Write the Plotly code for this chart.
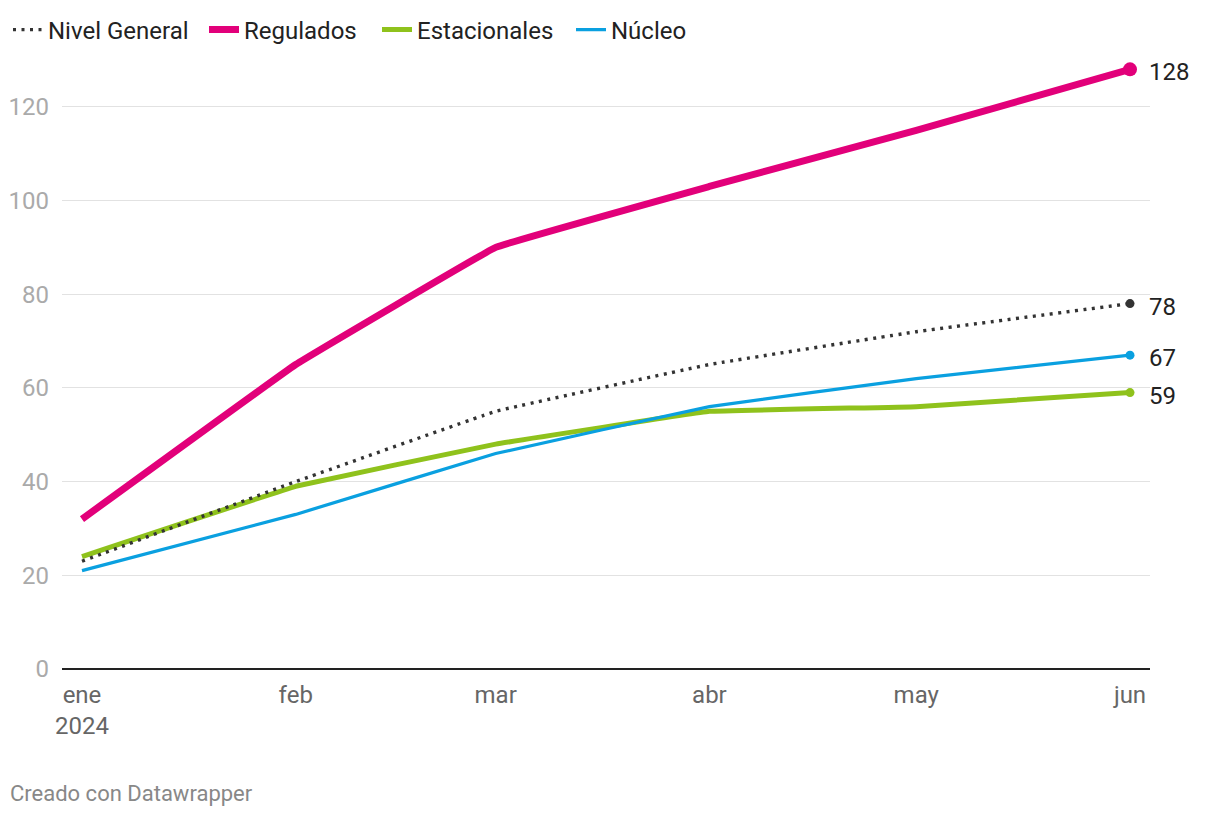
import plotly.graph_objects as go
import pandas as pd

dates = ["2024-01-01", "2024-02-01", "2024-03-01", "2024-04-01", "2024-05-01", "2024-06-01"]
tick_labels = ["ene<br>2024", "feb", "mar", "abr", "may", "jun"]
nivel_general = [23, 40, 55, 65, 72, 78]
regulados = [32, 65, 90, 103, 115, 128]
estacionales = [24, 39, 48, 55, 56, 59]
nucleo = [21, 33, 46, 56, 62, 67]

FONT = "Roboto"
W, H = 1220, 816
OFF = 8  # page body margin
L, R, T, B = 62 - OFF, 1220 - 1150 + OFF, 60 - OFF, 816 - 669 + OFF
PW, PH = W - L - R, H - T - B

d = pd.to_datetime(dates)
span = d[-1] - d[0]
pad = span * (20 / 1048)
xrange = [(d[0] - pad).isoformat(), (d[-1] + pad).isoformat()]

series = [
    # name, values, color, width, dash, end marker size, legend id, legend symbol x (screen px)
    ("Regulados", regulados, "#e2007a", 7, "solid", 14, "legend2", 213),
    ("Estacionales", estacionales, "#8fc21c", 5, "solid", 9, "legend3", 386),
    ("Núcleo", nucleo, "#0aa0e0", 3.2, "solid", 9, "legend4", 580),
    ("Nivel General", nivel_general, "#333333", 3.4, "3px,5.5px", 9, "legend", 10),
]

fig = go.Figure()
legends = {}
for name, vals, color, width, dash, msize, leg, lx in series:
    fig.add_trace(go.Scatter(
        x=dates, y=vals, name=name, mode="lines",
        line=dict(color=color, width=width, dash=dash, shape="spline", smoothing=0.15),
        legend=leg, hoverinfo="skip",
    ))
    fig.add_trace(go.Scatter(
        x=[dates[-1]], y=[vals[-1]], mode="markers", showlegend=False,
        marker=dict(color=color, size=msize), hoverinfo="skip",
    ))
    fig.add_annotation(
        x=dates[-1], y=vals[-1], text=str(vals[-1]), showarrow=False,
        xanchor="left", xshift=17, yshift=-3,
        font=dict(family=FONT, size=24, color="#222222"),
    )
    legends[leg] = dict(
        orientation="h", xref="container", yref="container",
        x=(lx - 9 - OFF) / W, y=1 - (30 - OFF) / H,
        xanchor="left", yanchor="middle",
        font=dict(family=FONT, size=24, color="#222222"),
        itemwidth=30, bgcolor="rgba(0,0,0,0)",
    )

fig.add_annotation(
    xref="paper", yref="paper", x=-L / PW, y=-(793 - 669) / PH,
    text="Creado con Datawrapper", showarrow=False,
    xanchor="left", yanchor="middle", xshift=0,
    font=dict(family=FONT, size=22, color="#888888"),
)

fig.update_layout(
    width=W, height=H,
    margin=dict(l=L, r=R, t=T, b=B),
    paper_bgcolor="white", plot_bgcolor="white",
    font=dict(family=FONT, size=24, color="#222222"),
    xaxis=dict(
        type="date", range=xrange, tickmode="array", tickvals=dates,
        ticktext=tick_labels, showgrid=False, zeroline=False,
        showline=False, ticks="", automargin=False, ticklabelstandoff=9,
        tickfont=dict(family=FONT, size=24, color="#666666"),
    ),
    yaxis=dict(
        range=[0, 130], tickmode="array", tickvals=[0, 20, 40, 60, 80, 100, 120],
        showgrid=True, gridcolor="#e2e2e2", gridwidth=1,
        zeroline=True, zerolinecolor="#222222", zerolinewidth=2,
        ticks="", ticklabelstandoff=12, automargin=False,
        tickfont=dict(family=FONT, size=24, color="#aaaaaa"),
    ),
    **legends,
)

fig.write_html("out.html")
